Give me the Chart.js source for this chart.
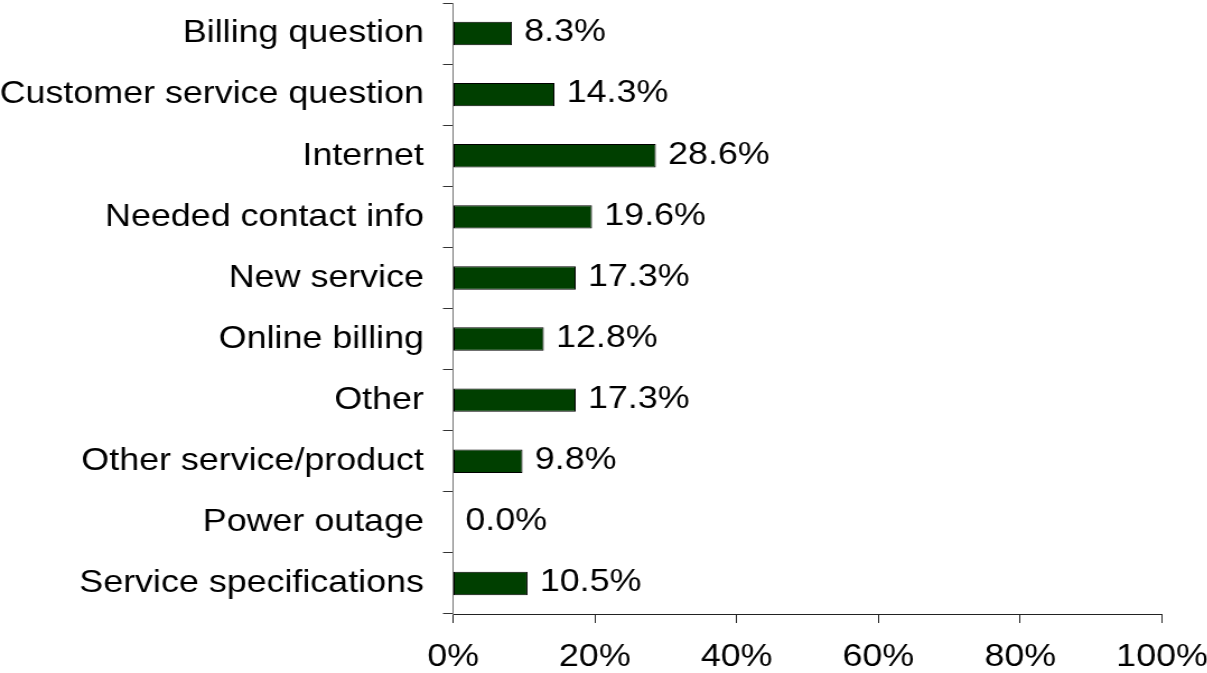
<!DOCTYPE html>
<html>
<head>
<meta charset="utf-8">
<title>Contact reasons</title>
<script src="https://cdn.jsdelivr.net/npm/chart.js@4/dist/chart.umd.min.js"></script>
<style>
  html, body { margin: 0; padding: 0; background: #fff; overflow: hidden; }
  /* the chart is drawn on a narrower canvas and widened to give the wide lettering */
  #wrap { width: 1078px; height: 673px; transform: scaleX(1.12); transform-origin: 0 0; }
</style>
</head>
<body>
<div id="wrap"><canvas id="c" width="1078" height="673"></canvas></div>
<script>
const categories = [
  'Billing question',
  'Customer service question',
  'Internet',
  'Needed contact info',
  'New service',
  'Online billing',
  'Other',
  'Other service/product',
  'Power outage',
  'Service specifications'
];
const percentages = [8.3, 14.3, 28.6, 19.6, 17.3, 12.8, 17.3, 9.8, 0.0, 10.5];
const xTickValues = [0, 20, 40, 60, 80, 100];

const FONT = { family: '"Liberation Sans", Arial, sans-serif', size: 32 };

// writes each bar's percentage just past its end
const valueLabels = {
  id: 'valueLabels',
  afterDatasetsDraw(chart) {
    const ctx = chart.ctx;
    const meta = chart.getDatasetMeta(0);
    ctx.save();
    ctx.font = `${FONT.size}px ${FONT.family}`;
    ctx.fillStyle = '#000';
    ctx.textAlign = 'left';
    ctx.textBaseline = 'middle';
    meta.data.forEach((bar, i) => {
      const v = chart.data.datasets[0].data[i];
      ctx.fillText(v.toFixed(1) + '%', bar.x + 11, bar.y - 1);
    });
    ctx.restore();
  }
};

new Chart(document.getElementById('c'), {
  type: 'bar',
  data: {
    labels: categories,
    datasets: [{
      data: percentages,
      backgroundColor: '#003f00',
      borderColor: '#000',
      borderWidth: 1,
      borderSkipped: false,
      barPercentage: 0.383,
      categoryPercentage: 1
    }]
  },
  options: {
    indexAxis: 'y',
    responsive: false,
    animation: false,
    layout: { padding: { top: 3, right: 40.5, left: 0, bottom: 0 } },
    plugins: { legend: { display: false }, tooltip: { enabled: false } },
    scales: {
      x: {
        min: 0,
        max: 100,
        afterBuildTicks(scale) { scale.ticks = xTickValues.map(v => ({ value: v })); },
        afterFit(scale) {
          scale.height = 59;
          scale.paddingLeft = 0;
          scale.paddingRight = 0;
        },
        ticks: {
          color: '#000',
          font: FONT,
          padding: 15,
          maxRotation: 0,
          callback: v => v + '%'
        },
        grid: { drawOnChartArea: false, tickLength: 9, color: '#222', lineWidth: 1 },
        border: { color: '#222', width: 1 }
      },
      y: {
        afterFit(scale) {
          scale.width = 404.5;
          scale.paddingTop = 0;
          scale.paddingBottom = 0;
        },
        ticks: { color: '#000', font: FONT, padding: 17, crossAlign: 'near' },
        grid: { drawOnChartArea: false, offset: true, tickLength: 9, color: '#333', lineWidth: 1 },
        border: { color: '#777', width: 1 }
      }
    }
  },
  plugins: [valueLabels]
});
</script>
</body>
</html>
